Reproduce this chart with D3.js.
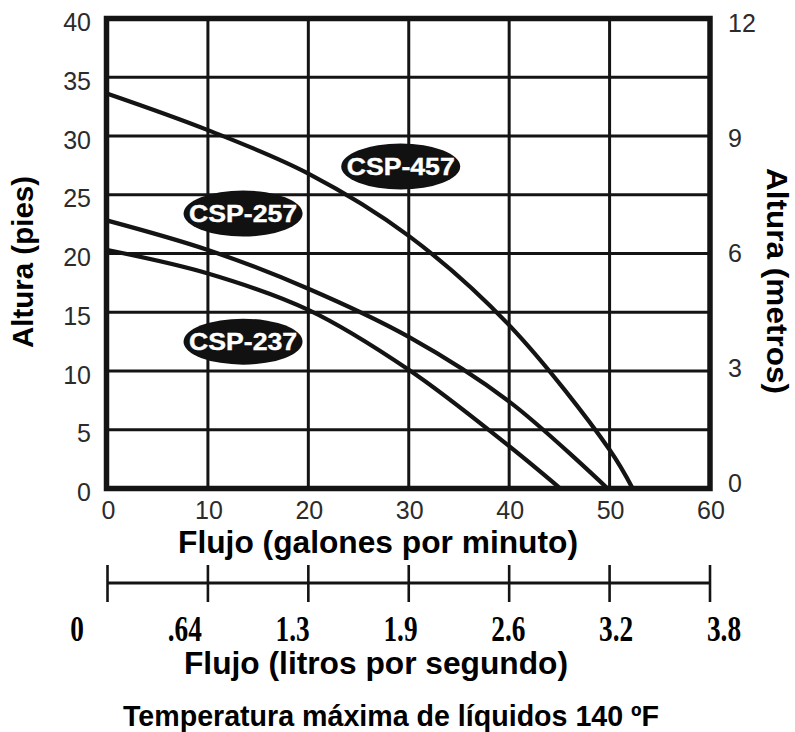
<!DOCTYPE html>
<html><head><meta charset="utf-8">
<script src="https://cdn.jsdelivr.net/npm/d3@7"></script>
<style>body{margin:0;background:#fff} svg{display:block}</style>
</head><body>
<svg id="c" width="795" height="732"></svg>
<script>
// ---- data ----
const flowTicks = [0, 10, 20, 30, 40, 50, 60];          // galones por minuto
const headTicksFt = [0, 5, 10, 15, 20, 25, 30, 35, 40]; // pies
const headTicksM = [0, 3, 6, 9, 12];                    // metros
const lpsLabels = ["0", ".64", "1.3", "1.9", "2.6", "3.2", "3.8"]; // litros por segundo

const seriesNames = ["CSP-457", "CSP-257", "CSP-237"];
const flow457 = [0, 10, 20, 30, 40, 50, 52.3];
const head457 = [33.6, 30.5, 26.8, 21.5, 13.9, 3.3, 0];
const flow257 = [0, 10, 20, 30, 40, 49.8];
const head257 = [22.8, 20.3, 17.0, 12.9, 7.4, 0];
const flow237 = [0, 10, 20, 30, 40, 45.1];
const head237 = [20.3, 18.3, 15.2, 10.1, 3.6, 0];

// label anchors in data units (gpm, ft)
const labelFlow = [29.2, 13.5, 13.5];
const labelHead = [27.4, 23.4, 12.5];

const texts = {
  yLeft: "Altura (pies)",
  yRight: "Altura (metros)",
  x1: "Flujo (galones por minuto)",
  x2: "Flujo (litros por segundo)",
  note: "Temperatura máxima de líquidos 140 ºF"
};

// ---- drawing ----
const svg = d3.select("#c");
svg.append("rect").attr("width", 795).attr("height", 732).attr("fill", "#fff");

const x = d3.scaleLinear().domain([0, 60]).range([107.5, 710]);
const y = d3.scaleLinear().domain([0, 40]).range([488.5, 18.5]);
const yM = d3.scaleLinear().domain([0, 12]).range([483, 23]);
const xL = d3.scalePoint().domain(lpsLabels).range([77, 724]);

const ink = "#141414";
const sans = "'Liberation Sans', Arial, Helvetica, sans-serif";

// grid
const g = svg.append("g");
g.selectAll("line.v").data(flowTicks.slice(1, -1)).join("line")
  .attr("x1", d => x(d)).attr("x2", d => x(d))
  .attr("y1", y(40)).attr("y2", y(0))
  .attr("stroke", ink).attr("stroke-width", 3);
g.selectAll("line.h").data(headTicksFt.slice(1, -1)).join("line")
  .attr("y1", d => y(d)).attr("y2", d => y(d))
  .attr("x1", x(0)).attr("x2", x(60))
  .attr("stroke", ink).attr("stroke-width", 3);

// curves
const series = [
  { name: seriesNames[0], flow: flow457, head: head457 },
  { name: seriesNames[1], flow: flow257, head: head257 },
  { name: seriesNames[2], flow: flow237, head: head237 }
];
const line = d3.line().x(d => x(d[0])).y(d => y(d[1])).curve(d3.curveCatmullRom.alpha(0.5));
svg.append("g").selectAll("path").data(series).join("path")
  .attr("d", s => line(s.flow.map((f, i) => [f, s.head[i]])))
  .attr("fill", "none").attr("stroke", ink).attr("stroke-width", 4.2)
  .attr("stroke-linecap", "butt");

// border
svg.append("rect")
  .attr("x", x(0) - 1).attr("y", y(40))
  .attr("width", x(60) - x(0) + 1).attr("height", y(0) - y(40))
  .attr("fill", "none").attr("stroke", ink).attr("stroke-width", 5.5);

// series labels
const lab = svg.append("g").selectAll("g").data(seriesNames).join("g")
  .attr("transform", (d, i) => `translate(${x(labelFlow[i])},${y(labelHead[i])})`);
lab.append("ellipse").attr("rx", 59.5).attr("ry", 23).attr("fill", "#111");
lab.append("text").text(d => d)
  .attr("text-anchor", "middle").attr("y", 8.5)
  .attr("font-family", sans).attr("font-weight", "bold").attr("font-size", 24)
  .attr("fill", "#fff").attr("stroke", "#fff").attr("stroke-width", 0.4)
  .attr("textLength", 108).attr("lengthAdjust", "spacingAndGlyphs");

// left tick labels
svg.append("g").selectAll("text").data(headTicksFt).join("text")
  .text(d => d)
  .attr("x", 91).attr("y", d => y(d) + 3.5 + 9)
  .attr("text-anchor", "end")
  .attr("font-family", sans).attr("font-size", 25).attr("fill", "#2b2b2b");

// right tick labels
svg.append("g").selectAll("text").data(headTicksM).join("text")
  .text(d => d)
  .attr("x", 728).attr("y", d => yM(d) + 9)
  .attr("text-anchor", "start")
  .attr("font-family", sans).attr("font-size", 25).attr("fill", "#2b2b2b");

// bottom tick labels
svg.append("g").selectAll("text").data(flowTicks).join("text")
  .text(d => d)
  .attr("x", d => x(d) + 1).attr("y", 519)
  .attr("text-anchor", "middle")
  .attr("font-family", sans).attr("font-size", 25).attr("fill", "#2b2b2b");

// axis titles
svg.append("text").text(texts.yLeft)
  .attr("transform", "translate(33,262) rotate(-90)")
  .attr("text-anchor", "middle")
  .attr("font-family", sans).attr("font-weight", "bold").attr("font-size", 30)
  .attr("fill", "#000").attr("textLength", 172).attr("lengthAdjust", "spacingAndGlyphs");
svg.append("text").text(texts.yRight)
  .attr("transform", "translate(767,281) rotate(90)")
  .attr("text-anchor", "middle")
  .attr("font-family", sans).attr("font-weight", "bold").attr("font-size", 30)
  .attr("fill", "#000").attr("textLength", 226).attr("lengthAdjust", "spacingAndGlyphs");

svg.append("text").text(texts.x1)
  .attr("x", 378).attr("y", 553).attr("text-anchor", "middle")
  .attr("font-family", sans).attr("font-weight", "bold").attr("font-size", 32)
  .attr("fill", "#000").attr("textLength", 400).attr("lengthAdjust", "spacingAndGlyphs");

// secondary (litros por segundo) scale
const sec = svg.append("g");
sec.append("line").attr("x1", x(0)).attr("x2", x(60)).attr("y1", 583).attr("y2", 583)
  .attr("stroke", ink).attr("stroke-width", 3);
sec.selectAll("line.t").data(flowTicks).join("line")
  .attr("x1", d => x(d)).attr("x2", d => x(d)).attr("y1", 565).attr("y2", 602)
  .attr("stroke", ink).attr("stroke-width", 2.6);
sec.selectAll("text").data(lpsLabels).join("text")
  .text(d => d)
  .attr("transform", d => `translate(${xL(d)},641) scale(0.78,1)`)
  .attr("text-anchor", "middle")
  .attr("font-family", "'Liberation Serif', 'Times New Roman', serif")
  .attr("font-weight", "bold").attr("font-size", 35).attr("fill", "#000");

svg.append("text").text(texts.x2)
  .attr("x", 376).attr("y", 674).attr("text-anchor", "middle")
  .attr("font-family", sans).attr("font-weight", "bold").attr("font-size", 31)
  .attr("fill", "#000").attr("textLength", 384).attr("lengthAdjust", "spacingAndGlyphs");

svg.append("text").text(texts.note)
  .attr("x", 391).attr("y", 726).attr("text-anchor", "middle")
  .attr("font-family", sans).attr("font-weight", "bold").attr("font-size", 29)
  .attr("fill", "#000").attr("textLength", 536).attr("lengthAdjust", "spacingAndGlyphs");
</script>
</body></html>
